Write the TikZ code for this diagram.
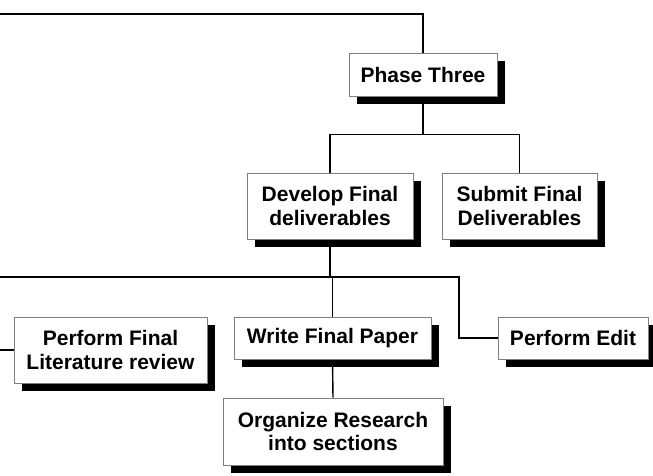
\documentclass[tikz,border=0pt]{standalone}
\usepackage{fontspec}
\setmainfont{Liberation Sans}
\usetikzlibrary{positioning,shadows,backgrounds}

\tikzset{
  task/.style={draw=black!50, line width=0.8pt, fill=white, align=center,
    inner sep=0pt, font=\bfseries\fontsize{21}{23.5}\selectfont,
    drop shadow={shadow xshift=8pt, shadow yshift=-8pt, fill=black, opacity=1}},
  conn/.style={draw=black, line width=1.4pt}
}

\begin{document}
\begin{tikzpicture}[x=1pt, y=-1pt]
\useasboundingbox (0,0) rectangle (653,475);

% tasks of the third phase
\node[task, minimum width=148pt, minimum height=43pt] (three) at (423,74.5) {Phase Three};
\node[task, minimum width=166pt, minimum height=66pt] (develop) at (330,206) {Develop Final\\deliverables};
\node[task, minimum width=155pt, minimum height=66pt] (submit) at (519.5,206) {Submit Final\\Deliverables};
\node[task, minimum width=193pt, minimum height=66pt] (lit) at (110.5,350) {Perform Final\\Literature review};
\node[task, minimum width=197pt, minimum height=42pt] (write) at (332.5,338) {Write Final Paper};
\node[task, minimum width=150pt, minimum height=42pt] (edit) at (573,338) {Perform Edit};
\node[task, minimum width=220pt, minimum height=67pt] (organize) at (333,431.5) {Organize Research\\into sections};

% loose ends running off to the left
\coordinate (topL) at (0,14);
\coordinate (busL) at (0,277);
\coordinate (busR) at (459,277);
\coordinate (litL) at (0,350);

\begin{scope}[on background layer]
\draw[conn, line width=2pt] (topL) -| (three.north);
\draw[conn] (three.south) -- ++(0,38) -| (develop.north);
\draw[conn] (three.south) -- ++(0,38) -| (submit.north);
\draw[conn] (develop.south) -- (develop.south |- busL);
\draw[conn] (busL) -- (busR) |- (edit.west);
\draw[conn] (write.north) -- (write.north |- busL);
\draw[conn] (litL) -- (lit.west);
\draw[conn] (write.south) -- (organize.north);
\end{scope}
\end{tikzpicture}
\end{document}
